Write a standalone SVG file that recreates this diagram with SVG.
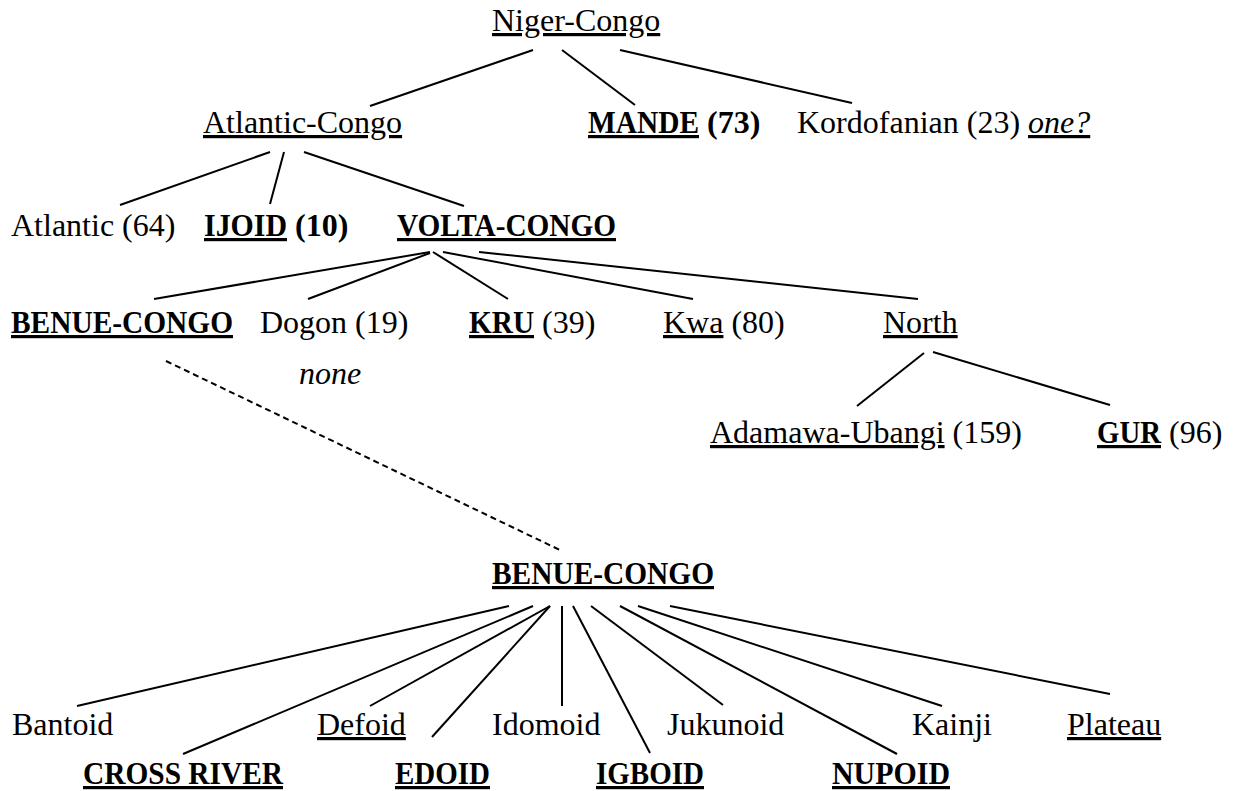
<svg xmlns="http://www.w3.org/2000/svg" width="1238" height="791" viewBox="0 0 1238 791">
<style>
.t{font-family:"Liberation Serif","Times New Roman",serif;font-size:32px;fill:#000}
.b{font-weight:bold}
.u{text-decoration:underline}
.i{font-style:italic}
.c line{stroke:#000;stroke-width:2;fill:none;stroke-linecap:butt}
.c .d{stroke-dasharray:6 4}
</style>
<rect width="1238" height="791" fill="#fff"/>
<g class="c" id="connectors">
<line x1="533" y1="50" x2="370" y2="106"/>
<line x1="562" y1="50" x2="635" y2="105"/>
<line x1="620" y1="50" x2="852" y2="103"/>
<line x1="270" y1="152" x2="120" y2="205"/>
<line x1="284" y1="152" x2="270" y2="204"/>
<line x1="304" y1="152" x2="464" y2="206"/>
<line x1="430" y1="252" x2="154" y2="299"/>
<line x1="430" y1="253" x2="308" y2="299"/>
<line x1="433" y1="252" x2="508" y2="299"/>
<line x1="443" y1="252" x2="693" y2="299"/>
<line x1="479" y1="252" x2="918" y2="299"/>
<line x1="924" y1="353" x2="857" y2="406"/>
<line x1="933" y1="352" x2="1110" y2="405"/>
<line class="d" x1="166" y1="361" x2="562" y2="551"/>
<line x1="509" y1="606" x2="77" y2="706"/>
<line x1="533" y1="606" x2="183" y2="754"/>
<line x1="550" y1="606" x2="370" y2="706"/>
<line x1="550" y1="606" x2="432" y2="737"/>
<line x1="562" y1="606" x2="562" y2="706"/>
<line x1="573" y1="606" x2="650" y2="753"/>
<line x1="591" y1="606" x2="723" y2="705"/>
<line x1="620" y1="606" x2="897" y2="754"/>
<line x1="638" y1="606" x2="942" y2="706"/>
<line x1="670" y1="606" x2="1110" y2="694"/>
</g>
<g id="niger-congo"><text class="t u" x="492" y="31">Niger-Congo</text></g>
<g id="atlantic-congo"><text class="t u" x="203" y="133">Atlantic-Congo</text></g>
<g id="mande"><text class="t b" x="588" y="133"><tspan class="u" textLength="111" lengthAdjust="spacingAndGlyphs">MANDE</tspan><tspan x="707">(73)</tspan></text></g>
<g id="kordofanian"><text class="t" x="797" y="133">Kordofanian (23) <tspan class="i u">one?</tspan></text></g>
<g id="atlantic"><text class="t" x="11" y="236">Atlantic (64)</text></g>
<g id="ijoid"><text class="t b" x="204" y="236"><tspan class="u" textLength="83" lengthAdjust="spacingAndGlyphs">IJOID</tspan><tspan x="295">(10)</tspan></text></g>
<g id="volta-congo"><text class="t b u" x="397" y="236" textLength="219" lengthAdjust="spacingAndGlyphs">VOLTA-CONGO</text></g>
<g id="benue-congo-1"><text class="t b u" x="11" y="333" textLength="222" lengthAdjust="spacingAndGlyphs">BENUE-CONGO</text></g>
<g id="dogon"><text class="t" x="260" y="333">Dogon (19)</text><text class="t i" x="299" y="384">none</text></g>
<g id="kru"><text class="t" x="469" y="333"><tspan class="b u" textLength="65" lengthAdjust="spacingAndGlyphs">KRU</tspan><tspan x="542">(39)</tspan></text></g>
<g id="kwa"><text class="t" x="663" y="333"><tspan class="u">Kwa</tspan> (80)</text></g>
<g id="north"><text class="t u" x="883" y="333">North</text></g>
<g id="adamawa-ubangi"><text class="t" x="710" y="443"><tspan class="u">Adamawa-Ubangi</tspan> (159)</text></g>
<g id="gur"><text class="t" x="1097" y="443"><tspan class="b u" textLength="64" lengthAdjust="spacingAndGlyphs">GUR</tspan><tspan x="1169">(96)</tspan></text></g>
<g id="benue-congo-2"><text class="t b u" x="492" y="584" textLength="222" lengthAdjust="spacingAndGlyphs">BENUE-CONGO</text></g>
<g id="bantoid"><text class="t" x="12" y="735">Bantoid</text></g>
<g id="cross-river"><text class="t b u" x="83" y="784" textLength="200" lengthAdjust="spacingAndGlyphs">CROSS RIVER</text></g>
<g id="defoid"><text class="t u" x="317" y="735">Defoid</text></g>
<g id="edoid"><text class="t b u" x="395" y="784" textLength="95" lengthAdjust="spacingAndGlyphs">EDOID</text></g>
<g id="idomoid"><text class="t" x="492" y="735">Idomoid</text></g>
<g id="igboid"><text class="t b u" x="596" y="784" textLength="108" lengthAdjust="spacingAndGlyphs">IGBOID</text></g>
<g id="jukunoid"><text class="t" x="667" y="735">Jukunoid</text></g>
<g id="nupoid"><text class="t b u" x="832" y="784" textLength="118" lengthAdjust="spacingAndGlyphs">NUPOID</text></g>
<g id="kainji"><text class="t" x="912" y="735">Kainji</text></g>
<g id="plateau"><text class="t u" x="1067" y="735">Plateau</text></g>
</svg>
